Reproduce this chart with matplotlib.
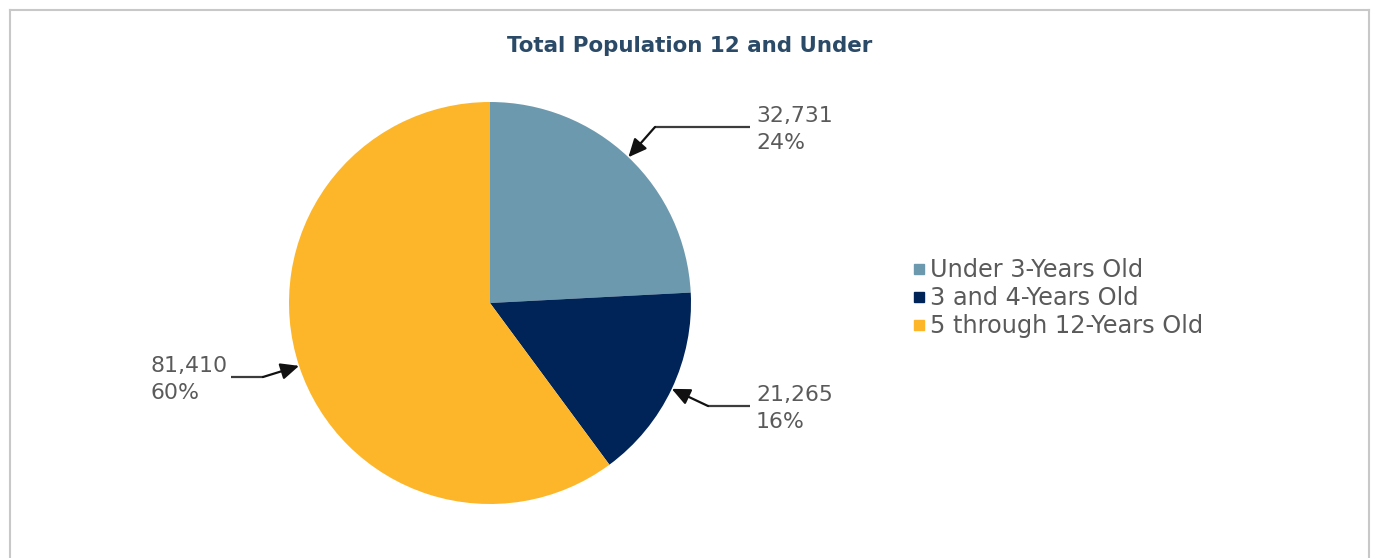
import matplotlib
matplotlib.use('Agg')
import numpy as np
import matplotlib.pyplot as plt
from matplotlib.lines import Line2D

plt.rcParams['font.family'] = ['DejaVu Sans']

# data
categories = ['Under 3-Years Old', '3 and 4-Years Old', '5 through 12-Years Old']
counts = [32731, 21265, 81410]
colors = ['#6D99AE', '#002457', '#FDB62A']
title = 'Total Population 12 and Under'

W, H = 1376, 558
fig = plt.figure(figsize=(W / 100, H / 100), dpi=100)
# one axes over the whole figure, 1 data unit = 1 pixel
ax = fig.add_axes([0, 0, 1, 1])

cx, cy, r = 490, H - 303, 201
wedges, _ = ax.pie(counts, colors=colors, startangle=90, counterclock=False,
                   center=(cx, cy), radius=r, wedgeprops=dict(linewidth=0))
ax.set_xlim(0, W)
ax.set_ylim(0, H)
ax.set_aspect('auto')
ax.axis('off')

# label layout: (text x, elbow x, line y from top)
label_layout = [
    (756, 655, 127),
    (756, 708, 406),
    (151, 263, 377),
]
total = sum(counts)
text_color = '#5a5a5a'
for w, c, (tx, ex, ly) in zip(wedges, counts, label_layout):
    mid = np.deg2rad((w.theta1 + w.theta2) / 2)
    tip = (cx + r * np.cos(mid), cy + r * np.sin(mid))
    y = H - ly
    if ex > cx:
        line_start = tx - 6
    else:
        line_start = 231
    ax.plot([line_start, ex], [y, y], color='#3c3c3c', lw=1.6, solid_capstyle='butt')
    ax.annotate('', xy=tip, xytext=(ex, y),
                arrowprops=dict(arrowstyle='-|>,head_length=0.55,head_width=0.25',
                                color='#111111', lw=1.6,
                                mutation_scale=20, shrinkA=0, shrinkB=0))
    pct = round(100 * c / total)
    ax.text(tx, y - 2.5, f'{c:,}\n{pct}%', ha='left', va='center', fontsize=15.8,
            color=text_color, linespacing=1.4)

handles = [Line2D([], [], marker='s', linestyle='none', markersize=6.5,
                  markerfacecolor=col, markeredgecolor=col) for col in colors]
fig.legend(handles, categories, loc='center left',
           bbox_to_anchor=(901 / W, (H - 298) / H), frameon=False,
           fontsize=17.3, handlelength=0.5, handletextpad=0.2,
           labelspacing=0.17, labelcolor=text_color, borderpad=0)

fig.text(690 / W, 1 - 46 / H, title, ha='center', va='center',
         fontsize=15.4, fontweight='bold', color='#2B4A67')

# grey frame: left, top, right edges
border = '#C8C8C8'
fig.add_artist(Line2D([10 / W, 10 / W], [0, 1 - 10 / H], color=border, lw=1.5))
fig.add_artist(Line2D([10 / W, 1369 / W], [1 - 10 / H, 1 - 10 / H], color=border, lw=1.5))
fig.add_artist(Line2D([1369 / W, 1369 / W], [0, 1 - 10 / H], color=border, lw=1.5))

fig.savefig('out.png', dpi=100, facecolor='white')
